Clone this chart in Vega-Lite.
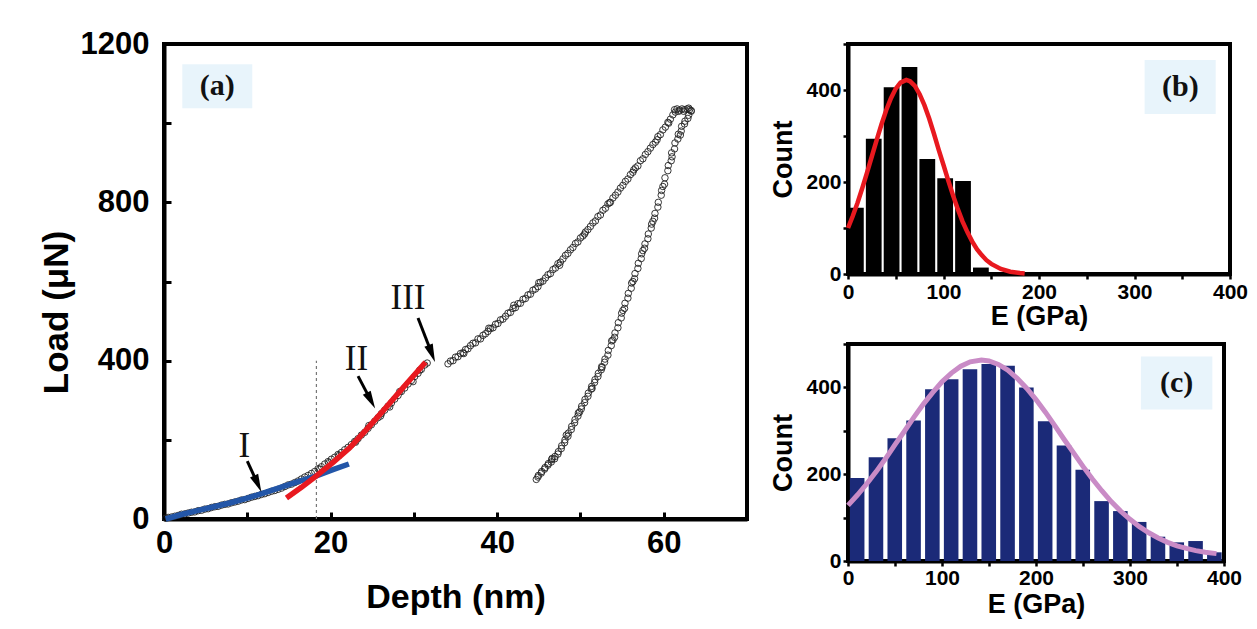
{
  "$schema": "https://vega.github.io/schema/vega-lite/v6.json",
  "background": "white",
  "padding": {"left": 37, "top": 26, "right": 5, "bottom": 0},
  "config": {
    "view": {"stroke": "#000", "strokeWidth": 4},
    "axis": {"domainColor": "#000", "domainWidth": 4, "tickColor": "#000", "grid": false, "labelFont": "Liberation Sans", "labelFontWeight": "bold", "labelColor": "#000", "titleFont": "Liberation Sans", "titleFontWeight": "bold", "titleColor": "#000", "labelFlush": false, "labelOverlap": false}
  },
  "datasets": {
    "pts": [
      {"x":0.2,"y":2},{"x":0.5,"y":4},{"x":0.9,"y":5},{"x":1.3,"y":7},{"x":1.7,"y":9},{"x":2.1,"y":12},{"x":2.5,"y":13},{"x":2.9,"y":15},{"x":3.3,"y":17},{"x":3.7,"y":18},
      {"x":4.1,"y":21},{"x":4.5,"y":22},{"x":4.9,"y":25},{"x":5.3,"y":26},{"x":5.7,"y":29},{"x":6.1,"y":31},{"x":6.5,"y":32},{"x":6.9,"y":35},{"x":7.3,"y":37},{"x":7.7,"y":38},
      {"x":8.1,"y":41},{"x":8.5,"y":43},{"x":8.9,"y":45},{"x":9.3,"y":48},{"x":9.7,"y":49},{"x":10.1,"y":52},{"x":10.5,"y":55},{"x":10.9,"y":57},{"x":11.3,"y":59},{"x":11.7,"y":62},
      {"x":12.1,"y":64},{"x":12.5,"y":67},{"x":12.9,"y":70},{"x":13.3,"y":72},{"x":13.7,"y":75},{"x":14.1,"y":78},{"x":14.5,"y":82},{"x":14.9,"y":86},{"x":15.3,"y":88},{"x":15.7,"y":92},
      {"x":16.1,"y":96},{"x":16.5,"y":101},{"x":16.9,"y":106},{"x":17.3,"y":110},{"x":17.7,"y":115},{"x":18.1,"y":120},{"x":18.5,"y":127},{"x":18.9,"y":132},{"x":19.3,"y":139},{"x":19.7,"y":145},
      {"x":20.1,"y":151},{"x":20.5,"y":156},{"x":20.9,"y":163},{"x":21.3,"y":168},{"x":21.7,"y":175},{"x":22.1,"y":181},{"x":22.5,"y":188},{"x":22.9,"y":196},{"x":23.3,"y":203},{"x":23.7,"y":212},
      {"x":24.1,"y":219},{"x":24.5,"y":229},{"x":24.9,"y":238},{"x":25.3,"y":247},{"x":25.7,"y":256},{"x":26.1,"y":266},{"x":26.5,"y":275},{"x":26.9,"y":285},{"x":27.3,"y":293},{"x":27.7,"y":303},
      {"x":28.1,"y":312},{"x":28.5,"y":322},{"x":28.9,"y":331},{"x":29.3,"y":341},{"x":29.7,"y":350},{"x":30.1,"y":360},{"x":30.5,"y":368},{"x":30.9,"y":378},{"x":31.3,"y":389},{"x":31.6,"y":394},
      {"x":29.9,"y":347},{"x":30.7,"y":376},{"x":28.3,"y":322},{"x":27.1,"y":283},{"x":26.0,"y":260},{"x":24.6,"y":236},{"x":23.0,"y":194},{"x":21.0,"y":160},{"x":19.8,"y":142},{"x":18.7,"y":126},
      {"x":34.1,"y":392},{"x":34.4,"y":399},{"x":34.7,"y":400},{"x":35.0,"y":409},{"x":35.3,"y":410},{"x":35.6,"y":418},{"x":35.9,"y":420},{"x":36.2,"y":428},{"x":36.5,"y":430},{"x":36.8,"y":438},
      {"x":37.1,"y":444},{"x":37.4,"y":445},{"x":37.7,"y":455},{"x":38.0,"y":455},{"x":38.3,"y":464},{"x":38.6,"y":468},{"x":38.9,"y":474},{"x":39.2,"y":481},{"x":39.5,"y":483},{"x":39.8,"y":492},
      {"x":40.1,"y":494},{"x":40.4,"y":503},{"x":40.7,"y":505},{"x":41.0,"y":512},{"x":41.3,"y":520},{"x":41.6,"y":522},{"x":41.9,"y":532},{"x":42.2,"y":534},{"x":42.5,"y":544},{"x":42.8,"y":545},
      {"x":43.1,"y":555},{"x":43.4,"y":557},{"x":43.7,"y":566},{"x":44.0,"y":568},{"x":44.3,"y":578},{"x":44.6,"y":581},{"x":44.9,"y":587},{"x":45.2,"y":598},{"x":45.5,"y":601},{"x":45.8,"y":609},
      {"x":46.1,"y":617},{"x":46.4,"y":620},{"x":46.7,"y":630},{"x":47.0,"y":634},{"x":47.3,"y":645},{"x":47.6,"y":649},{"x":47.9,"y":657},{"x":48.2,"y":666},{"x":48.5,"y":671},{"x":48.8,"y":680},
      {"x":49.1,"y":686},{"x":49.4,"y":696},{"x":49.7,"y":700},{"x":50.0,"y":710},{"x":50.3,"y":715},{"x":50.6,"y":725},{"x":50.9,"y":731},{"x":51.2,"y":739},{"x":51.5,"y":748},{"x":51.8,"y":753},
      {"x":52.1,"y":764},{"x":52.4,"y":768},{"x":52.7,"y":780},{"x":53.0,"y":785},{"x":53.3,"y":796},{"x":53.6,"y":800},{"x":53.9,"y":811},{"x":54.2,"y":818},{"x":54.5,"y":826},{"x":54.8,"y":836},
      {"x":55.1,"y":843},{"x":55.4,"y":853},{"x":55.7,"y":859},{"x":56.0,"y":870},{"x":56.3,"y":876},{"x":56.6,"y":887},{"x":56.9,"y":892},{"x":57.2,"y":905},{"x":57.5,"y":910},{"x":57.8,"y":921},
      {"x":58.1,"y":928},{"x":58.4,"y":937},{"x":58.7,"y":946},{"x":59.0,"y":952},{"x":59.3,"y":966},{"x":59.6,"y":971},{"x":59.9,"y":983},{"x":60.2,"y":990},{"x":60.5,"y":1002},{"x":60.8,"y":1010},
      {"x":61.1,"y":1021},{"x":61.4,"y":1028},{"x":61.3,"y":1034},{"x":61.6,"y":1036},{"x":61.9,"y":1033},{"x":62.2,"y":1036},{"x":62.5,"y":1034},{"x":62.8,"y":1036},{"x":63.1,"y":1034},{"x":63.3,"y":1032},
      {"x":61.8,"y":1030},{"x":62.4,"y":1030},{"x":63.0,"y":1038},
      {"x":63.3,"y":1030},{"x":63.0,"y":1020},{"x":62.9,"y":1012},{"x":62.55,"y":1005},{"x":62.5,"y":998},{"x":62.15,"y":992},{"x":62.1,"y":980},{"x":61.75,"y":972},{"x":61.7,"y":960},{"x":61.35,"y":950},
      {"x":61.3,"y":935},{"x":60.95,"y":925},{"x":60.9,"y":905},{"x":60.55,"y":893},{"x":60.5,"y":880},{"x":60.15,"y":862},{"x":60.1,"y":846},{"x":59.75,"y":830},{"x":59.7,"y":818},{"x":59.35,"y":800},
      {"x":59.3,"y":788},{"x":58.95,"y":772},{"x":58.9,"y":760},{"x":58.55,"y":745},{"x":58.5,"y":735},{"x":58.15,"y":720},{"x":58.1,"y":708},{"x":57.75,"y":695},{"x":57.7,"y":684},{"x":57.35,"y":670},
      {"x":57.3,"y":658},{"x":56.95,"y":646},{"x":56.9,"y":633},{"x":56.55,"y":620},{"x":56.5,"y":607},{"x":56.15,"y":596},{"x":56.1,"y":583},{"x":55.75,"y":570},{"x":55.7,"y":558},{"x":55.35,"y":545},
      {"x":55.3,"y":532},{"x":54.95,"y":520},{"x":54.9,"y":508},{"x":54.55,"y":496},{"x":54.5,"y":483},{"x":54.15,"y":470},{"x":54.1,"y":459},{"x":53.75,"y":450},{"x":53.7,"y":438},{"x":53.35,"y":426},
      {"x":53.3,"y":414},{"x":52.95,"y":404},{"x":52.9,"y":396},{"x":52.55,"y":385},{"x":52.5,"y":377},{"x":52.15,"y":368},{"x":52.1,"y":360},{"x":51.75,"y":352},{"x":51.7,"y":345},{"x":51.35,"y":335},
      {"x":51.3,"y":328},{"x":50.95,"y":318},{"x":50.9,"y":310},{"x":50.55,"y":302},{"x":50.5,"y":294},{"x":50.15,"y":285},{"x":50.1,"y":278},{"x":49.75,"y":268},{"x":49.7,"y":260},{"x":49.35,"y":251},
      {"x":49.3,"y":243},{"x":48.95,"y":234},{"x":48.9,"y":226},{"x":48.55,"y":217},{"x":48.5,"y":209},{"x":48.15,"y":200},{"x":48.1,"y":193},{"x":47.75,"y":185},{"x":47.7,"y":178},{"x":47.35,"y":170},
      {"x":47.3,"y":164},{"x":46.95,"y":158},{"x":46.9,"y":152},{"x":46.55,"y":150},{"x":46.5,"y":144},{"x":46.15,"y":140},{"x":46.1,"y":136},{"x":45.75,"y":130},{"x":45.7,"y":126},{"x":45.35,"y":120},
      {"x":45.3,"y":116},{"x":44.95,"y":110},{"x":44.9,"y":106},{"x":44.7,"y":100},
      {"x":36.0,"y":418},{"x":39.0,"y":482},{"x":42.0,"y":540},{"x":45.0,"y":597},{"x":47.5,"y":641},{"x":50.5,"y":720},{"x":53.5,"y":799},{"x":56.4,"y":882},{"x":59.2,"y":958},{"x":60.6,"y":1000},
      {"x":62.0,"y":970},{"x":61.0,"y":915},{"x":59.9,"y":840},{"x":58.7,"y":752},{"x":57.5,"y":678},{"x":56.3,"y":600},{"x":55.1,"y":527},{"x":53.9,"y":452},{"x":52.6,"y":383},{"x":51.4,"y":330},{"x":49.9,"y":270},{"x":48.3,"y":212},{"x":46.6,"y":153}
    ],
    "fit1": [
      {"x":0.2,"y":0},{"x":2.2,"y":12},{"x":4,"y":21},{"x":6,"y":31},{"x":8,"y":41},{"x":10.2,"y":54},{"x":12,"y":66},{"x":14,"y":80},{"x":16,"y":94},{"x":18.3,"y":109},{"x":20.2,"y":124},{"x":22.2,"y":139}
    ],
    "fit2": [
      {"x":14.7,"y":53},{"x":16.5,"y":80},{"x":18.3,"y":109},{"x":20.3,"y":143},{"x":22.3,"y":180},{"x":24.3,"y":226},{"x":26.3,"y":273},{"x":28.8,"y":334},{"x":31.4,"y":396}
    ],
    "arrows": [
      {"x":10.0,"y":146,"x2":11.25,"y2":89,"a":156,"t":"I","tx":9.64,"ty":184},
      {"x":23.3,"y":361,"x2":24.85,"y2":299,"a":152,"t":"II","tx":23.1,"ty":403},
      {"x":30.5,"y":508,"x2":32.15,"y2":418,"a":159,"t":"III","tx":29.3,"ty":559}
    ],
    "histb": [
      {"x":0,"x2":16.5,"y":144},{"x":18.7,"x2":35.2,"y":294},{"x":37.4,"x2":53.9,"y":406},{"x":56.1,"x2":72.6,"y":450},{"x":74.8,"x2":91.3,"y":250},{"x":93.5,"x2":110,"y":208},{"x":112.2,"x2":128.7,"y":202},{"x":130.9,"x2":147.4,"y":14},{"x":149.6,"x2":166.1,"y":1},{"x":168.3,"x2":184.8,"y":1},{"x":187,"x2":203.5,"y":4}
    ],
    "gaussb": [
      {"x":0,"y":100},{"x":5,"y":126},{"x":10,"y":155},{"x":15,"y":187},{"x":20,"y":221},{"x":25,"y":256},{"x":30,"y":291},{"x":35,"y":325},{"x":40,"y":356},{"x":45,"y":382},{"x":50,"y":403},{"x":55,"y":416},{"x":61,"y":422},{"x":65,"y":419},{"x":70,"y":409},{"x":75,"y":391},{"x":80,"y":367},{"x":85,"y":338},{"x":90,"y":305},{"x":95,"y":270},{"x":100,"y":237},{"x":105,"y":203},{"x":110,"y":171},{"x":115,"y":141},{"x":120,"y":114},{"x":125,"y":91},{"x":130,"y":71},{"x":135,"y":54},{"x":140,"y":41},{"x":145,"y":30},{"x":150,"y":22},{"x":160,"y":11},{"x":170,"y":5},{"x":180,"y":2},{"x":185,"y":1}
    ],
    "histc": [
      {"x":2,"x2":17.5,"y":191},{"x":22,"x2":37.5,"y":239},{"x":42,"x2":57.5,"y":283},{"x":62,"x2":77.5,"y":324},{"x":82,"x2":97.5,"y":396},{"x":102,"x2":117.5,"y":419},{"x":122,"x2":137.5,"y":442},{"x":142,"x2":157.5,"y":454},{"x":162,"x2":177.5,"y":450},{"x":182,"x2":197.5,"y":400},
      {"x":202,"x2":217.5,"y":322},{"x":222,"x2":237.5,"y":266},{"x":242,"x2":257.5,"y":210},{"x":262,"x2":277.5,"y":138},{"x":282,"x2":297.5,"y":115},{"x":302,"x2":317.5,"y":90},{"x":322,"x2":337.5,"y":56},{"x":342,"x2":357.5,"y":43},{"x":362,"x2":377.5,"y":46},{"x":382,"x2":397.5,"y":20}
    ],
    "gaussc": [
      {"x":0,"y":128},{"x":10,"y":152},{"x":20,"y":178},{"x":30,"y":206},{"x":40,"y":236},{"x":50,"y":268},{"x":60,"y":299},{"x":70,"y":331},{"x":80,"y":361},{"x":90,"y":388},{"x":100,"y":413},{"x":110,"y":433},{"x":120,"y":449},{"x":130,"y":459},{"x":142,"y":463},{"x":150,"y":461},{"x":160,"y":453},{"x":170,"y":440},{"x":180,"y":421},{"x":190,"y":398},
      {"x":200,"y":372},{"x":210,"y":343},{"x":220,"y":312},{"x":230,"y":280},{"x":240,"y":249},{"x":250,"y":218},{"x":260,"y":189},{"x":270,"y":162},{"x":280,"y":137},{"x":290,"y":115},{"x":300,"y":96},{"x":310,"y":79},{"x":320,"y":65},{"x":330,"y":53},{"x":340,"y":43},{"x":350,"y":35},{"x":360,"y":29},{"x":370,"y":24},{"x":380,"y":20},{"x":392,"y":17}
    ]
  },
  "spacing": 16,
  "hconcat": [
    {
      "width": 583,
      "height": 475,
      "encoding": {
        "x": {"field": "x", "type": "quantitative", "scale": {"domain": [0, 70], "nice": false, "zero": false},
          "axis": {"title": "Depth (nm)", "values": [0,10,20,30,40,50,60,70], "format": "d", "labelExpr": "datum.value % 20 === 0 ? datum.label : ''", "tickSize": -7, "tickWidth": 3, "labelPadding": 16, "labelFontSize": 31, "titleFontSize": 34, "titlePadding": 22}},
        "y": {"field": "y", "type": "quantitative", "scale": {"domain": [0, 1200], "nice": false, "zero": false},
          "axis": {"title": "Load (μN)", "values": [0,200,400,600,800,1000,1200], "format": "d", "labelExpr": "datum.value % 400 === 0 ? datum.label : ''", "tickSize": -7, "tickWidth": 3, "labelPadding": 22, "labelFontSize": 31, "titleFontSize": 35, "titleX": -90, "titleY": 268}}
      },
      "layer": [
        {"data": {"values": [{"x": 2.2, "x2": 10.6, "y": 1038, "y2": 1149}]}, "mark": {"type": "rect", "fill": "#e8f4fb"}, "encoding": {"x2": {"field": "x2"}, "y2": {"field": "y2"}}},
        {"data": {"values": [{"x": 6.4, "y": 1093, "t": "(a)"}]}, "mark": {"type": "text", "font": "Liberation Serif", "fontWeight": "bold", "fontSize": 30, "color": "#111"}, "encoding": {"text": {"field": "t"}}},
        {"data": {"values": [{"x": 18.3, "y": 0, "y2": 400}]}, "mark": {"type": "rule", "color": "#777", "strokeDash": [3, 3], "strokeWidth": 1.2}, "encoding": {"y2": {"field": "y2"}}},
        {"data": {"name": "pts"}, "mark": {"type": "point", "shape": "circle", "filled": false, "stroke": "#222", "strokeWidth": 0.9, "size": 42, "opacity": 1}},
        {"data": {"name": "fit1"}, "mark": {"type": "line", "color": "#2356a8", "strokeWidth": 5.5}},
        {"data": {"name": "fit2"}, "mark": {"type": "line", "color": "#e8191f", "strokeWidth": 5.5}},
        {"data": {"name": "arrows"}, "mark": {"type": "rule", "color": "#000", "strokeWidth": 3}, "encoding": {"x2": {"field": "x2"}, "y2": {"field": "y2"}}},
        {"data": {"name": "arrows"}, "mark": {"type": "point", "shape": "M0,-1L0.5,1L-0.5,1Z", "filled": true, "color": "#000", "size": 320, "opacity": 1}, "encoding": {"x": {"field": "x2", "type": "quantitative"}, "y": {"field": "y2", "type": "quantitative"}, "angle": {"field": "a", "type": "quantitative", "scale": null}}},
        {"data": {"name": "arrows"}, "mark": {"type": "text", "font": "Liberation Serif", "fontSize": 35, "color": "#111"}, "encoding": {"x": {"field": "tx", "type": "quantitative"}, "y": {"field": "ty", "type": "quantitative"}, "text": {"field": "t"}}}
      ]
    },
    {
      "spacing": 0,
      "vconcat": [
        {
          "width": 382,
          "height": 230,
          "encoding": {
            "x": {"field": "x", "type": "quantitative", "scale": {"domain": [0, 400], "nice": false, "zero": false},
              "axis": {"title": "E (GPa)", "values": [0,50,100,150,200,250,300,350,400], "labelExpr": "datum.value % 100 === 0 ? datum.label : ''", "tickSize": 5, "tickWidth": 2.5, "labelPadding": 2, "labelFontSize": 21, "titleFontSize": 27, "titlePadding": 1}},
            "y": {"field": "y", "type": "quantitative", "scale": {"domain": [0, 500], "nice": false, "zero": false},
              "axis": {"title": "Count", "values": [0,100,200,300,400,500], "labelExpr": "datum.value % 200 === 0 ? datum.label : ''", "tickSize": 5, "tickWidth": 2.5, "labelPadding": 2, "labelFontSize": 21, "titleFontSize": 27, "titlePadding": 8}}
          },
          "layer": [
            {"data": {"values": [{"x": 310.6, "x2": 385, "y": 348, "y2": 465}]}, "mark": {"type": "rect", "fill": "#e8f4fb"}, "encoding": {"x2": {"field": "x2"}, "y2": {"field": "y2"}}},
            {"data": {"values": [{"x": 348, "y": 406, "t": "(b)"}]}, "mark": {"type": "text", "font": "Liberation Serif", "fontWeight": "bold", "fontSize": 30, "color": "#111"}, "encoding": {"text": {"field": "t"}}},
            {"data": {"name": "histb"}, "mark": {"type": "rect", "color": "#000"}, "encoding": {"x2": {"field": "x2"}, "y2": {"datum": 0}}},
            {"data": {"name": "gaussb"}, "mark": {"type": "line", "color": "#e8191f", "strokeWidth": 4.5}}
          ]
        },
        {
          "width": 376,
          "height": 217,
          "encoding": {
            "x": {"field": "x", "type": "quantitative", "scale": {"domain": [0, 400], "nice": false, "zero": false},
              "axis": {"title": "E (GPa)", "values": [0,50,100,150,200,250,300,350,400], "labelExpr": "datum.value % 100 === 0 ? datum.label : ''", "tickSize": 5, "tickWidth": 2.5, "labelPadding": 1, "labelFontSize": 21, "titleFontSize": 27, "titlePadding": 3}},
            "y": {"field": "y", "type": "quantitative", "scale": {"domain": [0, 500], "nice": false, "zero": false},
              "axis": {"title": "Count", "values": [0,100,200,300,400,500], "labelExpr": "datum.value % 200 === 0 ? datum.label : ''", "tickSize": 5, "tickWidth": 2.5, "labelPadding": 2, "labelFontSize": 21, "titleFontSize": 27, "titlePadding": 8}}
          },
          "layer": [
            {"data": {"values": [{"x": 311.6, "x2": 387.6, "y": 349, "y2": 471}]}, "mark": {"type": "rect", "fill": "#e8f4fb"}, "encoding": {"x2": {"field": "x2"}, "y2": {"field": "y2"}}},
            {"data": {"values": [{"x": 349.6, "y": 410, "t": "(c)"}]}, "mark": {"type": "text", "font": "Liberation Serif", "fontWeight": "bold", "fontSize": 30, "color": "#111"}, "encoding": {"text": {"field": "t"}}},
            {"data": {"name": "histc"}, "mark": {"type": "rect", "color": "#1b2a78"}, "encoding": {"x2": {"field": "x2"}, "y2": {"datum": 0}}},
            {"data": {"name": "gaussc"}, "mark": {"type": "line", "color": "#c98bc6", "strokeWidth": 5}}
          ]
        }
      ]
    }
  ]
}
